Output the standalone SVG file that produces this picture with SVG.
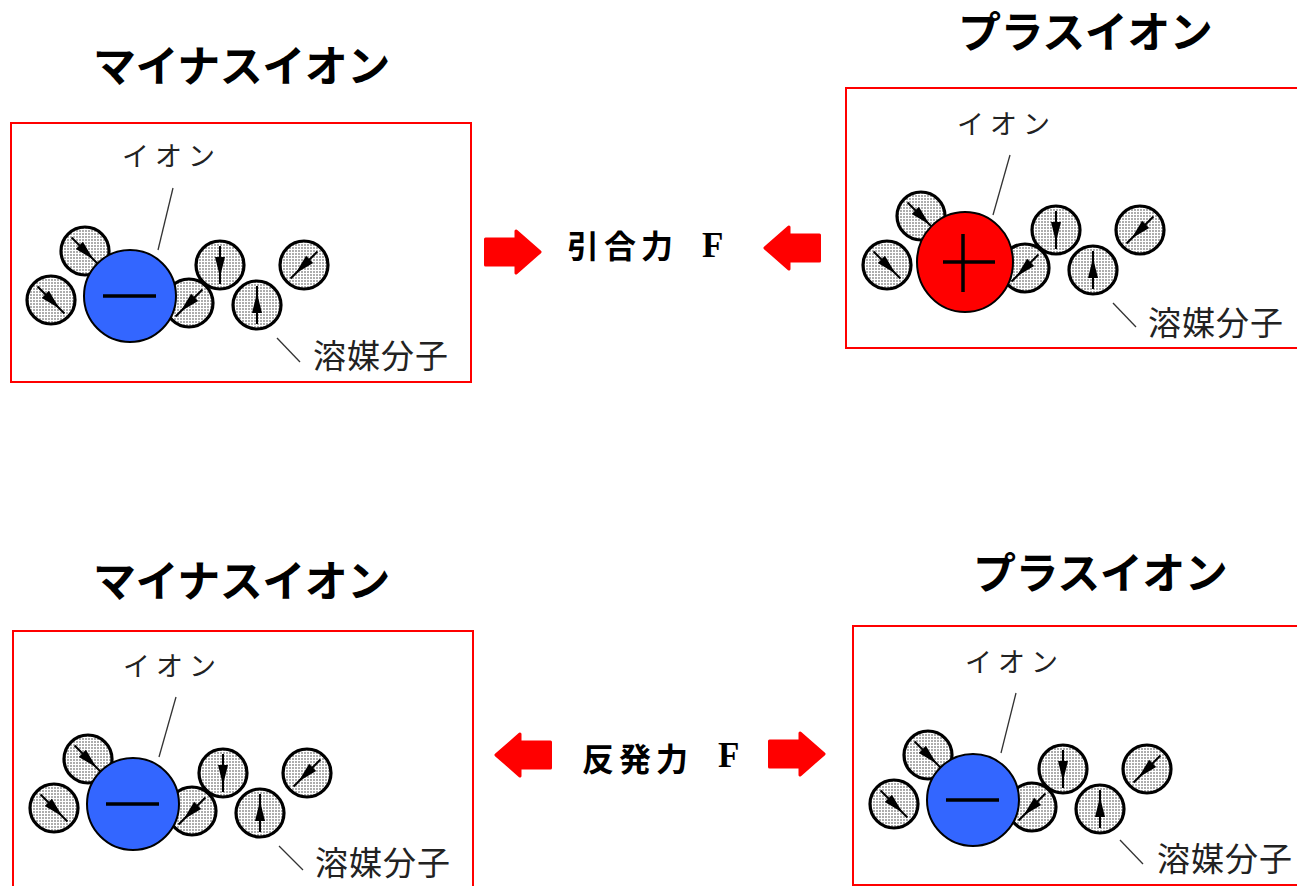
<svg xmlns="http://www.w3.org/2000/svg" xmlns:xlink="http://www.w3.org/1999/xlink" width="1297" height="886" viewBox="0 0 1297 886">
  <style>
    .frame { fill: none; stroke: #ff0000; stroke-width: 2; }
    .title { font-family: "Noto Sans CJK JP", sans-serif; font-weight: 700; font-size: 43px; letter-spacing: -0.5px; fill: #000; }
    .lbl-ion { font-family: "Noto Sans CJK JP", sans-serif; font-size: 27px; letter-spacing: 6px; fill: #222; }
    .lbl-sol { font-family: "Noto Sans CJK JP", sans-serif; font-size: 33px; letter-spacing: 1px; fill: #222; }
    .leader { stroke: #333; stroke-width: 1.3; fill: none; }
    .anion { fill: #3366ff; stroke: #000; stroke-width: 2; }
    .cation { fill: #ff0000; stroke: #000; stroke-width: 2; }
    .sign { stroke: #000; stroke-width: 3.5; stroke-linecap: butt; }
    .force { font-family: "Noto Sans CJK JP", sans-serif; font-weight: 700; font-size: 32px; letter-spacing: 5px; fill: #000; }
    .force-f { font-family: "Liberation Serif", serif; font-weight: 700; font-size: 35px; fill: #000; }
    .block { fill: #ff0000; stroke: #ff0000; stroke-width: 3; stroke-linejoin: round; }
  </style>
  <defs>
    <!-- stippled fill of a solvent molecule -->
    <pattern id="dots" width="3" height="3" patternUnits="userSpaceOnUse">
      <rect width="3" height="3" fill="#fff"/>
      <circle cx="1" cy="1" r="0.75" fill="#333"/>
    </pattern>
    <circle id="mol" r="24" fill="url(#dots)" stroke="#000" stroke-width="3.2"/>
    <!-- dipole arrow, pointing along +x -->
    <g id="dip">
      <line x1="-19" y1="0" x2="19" y2="0" stroke="#000" stroke-width="2"/>
      <polygon points="12,0 -8,-5 -8,5" fill="#000"/>
    </g>
    <!-- solvent shell around an ion, coordinates relative to the ion centre -->
    <g id="cluster">
      <g transform="translate(-45,-45)"><use xlink:href="#mol"/><use xlink:href="#dip" transform="rotate(45)"/></g>
      <g transform="translate(-79,4)"><use xlink:href="#mol"/><use xlink:href="#dip" transform="rotate(45)"/></g>
      <g transform="translate(59,7)"><use xlink:href="#mol"/><use xlink:href="#dip" transform="rotate(135)"/></g>
      <g transform="translate(90,-31)"><use xlink:href="#mol"/><use xlink:href="#dip" transform="rotate(90)"/></g>
      <g transform="translate(127,9)"><use xlink:href="#mol"/><use xlink:href="#dip" transform="rotate(-90)"/></g>
      <g transform="translate(174,-31)"><use xlink:href="#mol"/><use xlink:href="#dip" transform="rotate(135)"/></g>
    </g>
    <!-- red block arrow pointing right, origin at the tail centre -->
    <path id="block-arrow" class="block" d="M1.5,-13 H32 V-21 L56,0 L32,21 V13 H1.5 Z"/>
  </defs>

  <!-- upper left: negative ion -->
  <g id="anion-upper">
    <text class="title" x="93" y="82">マイナスイオン</text>
    <rect class="frame" x="11" y="123" width="460" height="259"/>
    <use xlink:href="#cluster" transform="translate(130,296)"/>
    <circle class="anion" cx="130" cy="296" r="46"/>
    <line class="sign" x1="103" y1="296" x2="156" y2="296"/>
    <line class="leader" x1="173" y1="188" x2="158" y2="250"/>
    <text class="lbl-ion" x="122" y="166">イオン</text>
    <line class="leader" x1="277" y1="338" x2="300" y2="362"/>
    <text class="lbl-sol" x="313" y="368">溶媒分子</text>
  </g>

  <!-- upper right: positive ion -->
  <g id="cation-upper">
    <text class="title" x="958" y="48">プラスイオン</text>
    <rect class="frame" x="846" y="88" width="460" height="260"/>
    <use xlink:href="#cluster" transform="translate(966,261)"/>
    <ellipse class="cation" cx="965" cy="262" rx="48" ry="50"/>
    <line class="sign" x1="943" y1="262" x2="995" y2="262"/>
    <line class="sign" x1="963" y1="234" x2="963" y2="292"/>
    <line class="leader" x1="1010" y1="155" x2="993" y2="215"/>
    <text class="lbl-ion" x="957" y="134">イオン</text>
    <line class="leader" x1="1113" y1="303" x2="1136" y2="327"/>
    <text class="lbl-sol" x="1148" y="335">溶媒分子</text>
  </g>

  <!-- lower left: negative ion -->
  <g id="anion-lower-left">
    <text class="title" x="93" y="597">マイナスイオン</text>
    <rect class="frame" x="13" y="631" width="460" height="270"/>
    <use xlink:href="#cluster" transform="translate(133,804)"/>
    <circle class="anion" cx="133" cy="804" r="46"/>
    <line class="sign" x1="106" y1="804" x2="159" y2="804"/>
    <line class="leader" x1="176" y1="697" x2="159" y2="757"/>
    <text class="lbl-ion" x="123" y="676">イオン</text>
    <line class="leader" x1="279" y1="846" x2="303" y2="870"/>
    <text class="lbl-sol" x="315" y="875">溶媒分子</text>
  </g>

  <!-- lower right: negative ion under the "plus" heading -->
  <g id="anion-lower-right">
    <text class="title" x="973" y="589">プラスイオン</text>
    <rect class="frame" x="853" y="626" width="460" height="259"/>
    <use xlink:href="#cluster" transform="translate(973,800)"/>
    <circle class="anion" cx="973" cy="800" r="46"/>
    <line class="sign" x1="946" y1="800" x2="999" y2="800"/>
    <line class="leader" x1="1016" y1="693" x2="1001" y2="753"/>
    <text class="lbl-ion" x="965" y="672">イオン</text>
    <line class="leader" x1="1120" y1="840" x2="1143" y2="864"/>
    <text class="lbl-sol" x="1157" y="871">溶媒分子</text>
  </g>

  <!-- forces between the ions -->
  <g id="connectors">
    <g id="attraction">
      <use xlink:href="#block-arrow" transform="translate(484,252)"/>
      <use xlink:href="#block-arrow" transform="translate(821,248) scale(-1,1)"/>
      <text class="force" x="567" y="258">引合力</text>
      <text class="force-f" x="702" y="257">F</text>
    </g>
    <g id="repulsion">
      <use xlink:href="#block-arrow" transform="translate(552,755) scale(-1,1)"/>
      <use xlink:href="#block-arrow" transform="translate(768,754)"/>
      <text class="force" x="582" y="771">反発力</text>
      <text class="force-f" x="718" y="767">F</text>
    </g>
  </g>
</svg>
